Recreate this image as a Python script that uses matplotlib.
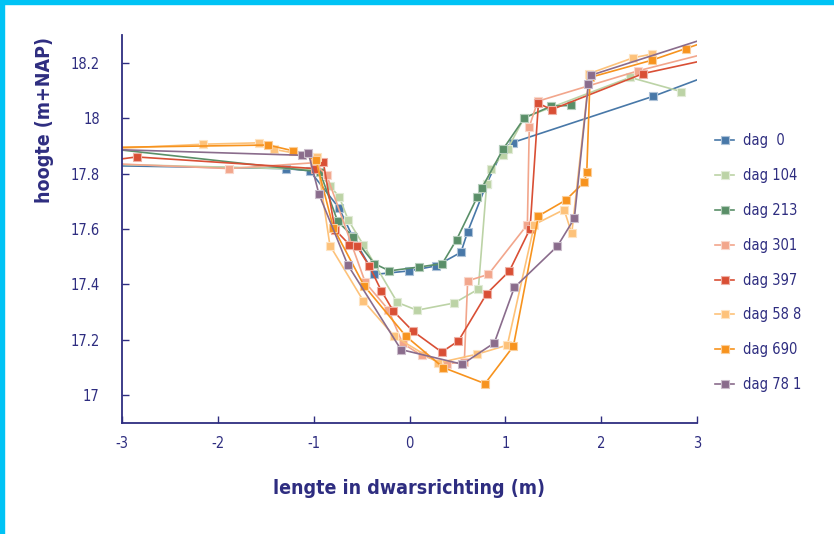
import matplotlib
matplotlib.use("Agg")
import matplotlib.pyplot as plt
from matplotlib.colors import to_rgb
from matplotlib.patches import Rectangle

plt.rcParams['font.family'] = ['DejaVu Sans']
plt.rcParams['font.stretch'] = 'condensed'

labels = ["dag  0", "dag 104", "dag 213", "dag 301", "dag 397", "dag 58 8", "dag 690", "dag 78 1"]
colors = ["#4878a8", "#bcd3a6", "#5a8f68", "#f2a68c", "#d94f35", "#fdc27a", "#f7931e", "#8a6c8c"]

x0 = [-3.4, -1.29, -1.04, -0.736, -0.597, -0.367, -0.002, 0.28, 0.537, 0.607, 0.806, 0.98, 1.077, 2.545, 3.4]
y0 = [17.83, 17.818, 17.81, 17.676, 17.575, 17.436, 17.449, 17.467, 17.516, 17.59, 17.764, 17.89, 17.912, 18.079, 18.19]

x1 = [-3.4, -0.98, -0.83, -0.733, -0.639, -0.482, -0.127, 0.078, 0.468, 0.718, 0.806, 0.847, 0.973, 1.025, 1.199, 2.302, 2.834]
y1 = [17.836, 17.815, 17.755, 17.716, 17.632, 17.543, 17.335, 17.307, 17.333, 17.383, 17.764, 17.818, 17.866, 17.89, 18.002, 18.147, 18.096]

x2 = [-3.4, -0.935, -0.75, -0.587, -0.367, -0.21, 0.102, 0.342, 0.492, 0.708, 0.753, 0.98, 1.199, 1.477, 1.682]
y2 = [17.9, 17.806, 17.628, 17.572, 17.475, 17.449, 17.463, 17.475, 17.562, 17.716, 17.747, 17.89, 18.001, 18.043, 18.046]

x3 = [-3.4, -1.88, -1.0, -0.864, -0.461, -0.221, -0.071, 0.127, 0.388, 0.572, 0.607, 0.823, 1.23, 1.25, 1.338, 2.388, 3.4]
y3 = [17.84, 17.818, 17.839, 17.794, 17.407, 17.309, 17.187, 17.144, 17.114, 17.12, 17.413, 17.436, 17.616, 17.969, 18.061, 18.171, 18.26]

x4 = [-3.4, -2.848, -0.986, -0.9, -0.778, -0.628, -0.551, -0.419, -0.294, -0.169, 0.033, 0.336, 0.51, 0.806, 1.042, 1.258, 1.345, 1.484, 2.44, 3.4]
y4 = [17.835, 17.86, 17.818, 17.842, 17.598, 17.544, 17.538, 17.466, 17.377, 17.304, 17.232, 17.156, 17.196, 17.367, 17.448, 17.601, 18.053, 18.031, 18.161, 18.233]

x5 = [-3.4, -2.152, -1.568, -1.411, -0.969, -0.83, -0.482, -0.159, 0.301, 0.701, 1.021, 1.303, 1.613, 1.693, 1.877, 2.336, 2.528]
y5 = [17.885, 17.906, 17.911, 17.887, 17.86, 17.54, 17.341, 17.213, 17.117, 17.148, 17.181, 17.616, 17.67, 17.584, 18.161, 18.218, 18.231]

x6 = [-3.4, -1.474, -1.213, -0.976, -0.795, -0.475, -0.037, 0.353, 0.788, 1.084, 1.345, 1.63, 1.825, 1.85, 1.884, 2.528, 2.883, 3.4]
y6 = [17.893, 17.903, 17.882, 17.848, 17.605, 17.396, 17.213, 17.1, 17.042, 17.177, 17.647, 17.704, 17.77, 17.806, 18.147, 18.209, 18.251, 18.312]

x7 = [-3.4, -1.119, -1.056, -0.945, -0.645, -0.089, 0.551, 0.885, 1.094, 1.543, 1.72, 1.867, 1.895, 3.4]
y7 = [17.89, 17.866, 17.875, 17.726, 17.471, 17.165, 17.112, 17.189, 17.389, 17.538, 17.638, 18.125, 18.155, 18.322]

xs = [x0, x1, x2, x3, x4, x5, x6, x7]
ys = [y0, y1, y2, y3, y4, y5, y6, y7]

xticks = [-3, -2, -1, 0, 1, 2, 3]
yticks = [17.0, 17.2, 17.4, 17.6, 17.8, 18.0, 18.2]
yticklabels = ["17", "17.2", "17.4", "17.6", "17.8", "18", "18.2"]

navy = "#2e2d80"

def lighten(c, f=0.5):
    r, g, b = to_rgb(c)
    return (r + (1 - r) * f, g + (1 - g) * f, b + (1 - b) * f)

fig = plt.figure(figsize=(8.34, 5.34), dpi=100)
ax = fig.add_axes([122 / 834, 1 - 423 / 534, (697 - 122) / 834, (423 - 35) / 534])

for x, y, c, lab in zip(xs, ys, colors, labels):
    ax.plot(x, y, color=c, lw=1.2, marker='s', ms=5.5, mfc=c,
            mec=lighten(c, 0.55), mew=0.8, label=lab, clip_on=True)

ax.set_xlim(-3, 3)
ax.set_ylim(16.9, 18.3)
ax.set_xticks(xticks)
ax.set_xticklabels([str(t) for t in xticks])
ax.set_yticks(yticks)
ax.set_yticklabels(yticklabels)
for s in ['top', 'right']:
    ax.spines[s].set_visible(False)
for s in ['left', 'bottom']:
    ax.spines[s].set_color(navy)
    ax.spines[s].set_linewidth(1.3)
ax.tick_params(direction='in', length=5, width=1, colors=navy, labelsize=10.5, pad=9)
ax.tick_params(axis='y', pad=16)

fig.text(45 / 834, 1 - 120 / 534, "hoogte (m+NAP)", rotation=90, ha='center', va='center',
         fontsize=14, fontweight='bold', color=navy)
fig.text(409 / 834, 1 - 488 / 534, "lengte in dwarsrichting (m)", ha='center', va='center',
         fontsize=14, fontweight='bold', color=navy)

leg = ax.legend(loc='upper left', bbox_to_anchor=(708 / 834, 1 - 126 / 534),
                bbox_transform=fig.transFigure, frameon=False, fontsize=10.5,
                handlelength=1.3, labelspacing=1.36, handletextpad=0.6, borderpad=0)
for t in leg.get_texts():
    t.set_color(navy)

fig.patches.append(Rectangle((0, 1 - 4 / 534), 1, 4 / 534, transform=fig.transFigure,
                             color="#00c3f5", zorder=10))
fig.patches.append(Rectangle((0, 0), 4 / 834, 1, transform=fig.transFigure,
                             color="#00c3f5", zorder=10))

fig.savefig("out.png", dpi=100)
